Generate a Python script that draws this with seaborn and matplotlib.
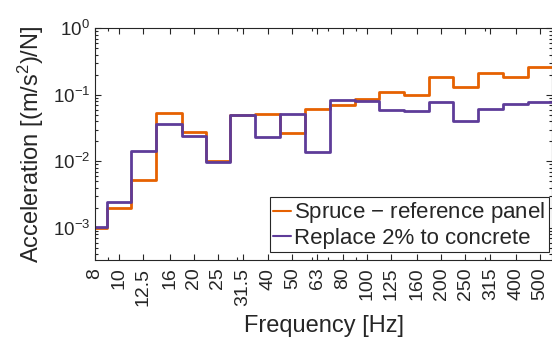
import numpy as np
import pandas as pd
import seaborn as sns
import matplotlib.pyplot as plt
from matplotlib.ticker import LogLocator, NullFormatter

# third-octave bands (nominal centre frequencies)
band_labels = ["8", "10", "12.5", "16", "20", "25", "31.5", "40", "50", "63",
               "80", "100", "125", "160", "200", "250", "315", "400", "500"]
band_hz = [8, 10, 12.5, 16, 20, 25, 31.5, 40, 50, 63,
           80, 100, 125, 160, 200, 250, 315, 400, 500]

# acceleration per band
spruce = [1.0e-3, 2.0e-3, 5.3e-3, 5.3e-2, 2.75e-2, 1.02e-2, 5.0e-2, 5.1e-2, 2.65e-2, 6.2e-2,
          7.1e-2, 8.7e-2, 0.110, 9.8e-2, 0.186, 0.130, 0.214, 0.184, 0.26]
concrete = [1.05e-3, 2.45e-3, 1.45e-2, 3.6e-2, 2.4e-2, 9.8e-3, 5.0e-2, 2.3e-2, 5.2e-2, 1.38e-2,
            8.4e-2, 8.1e-2, 6.0e-2, 5.75e-2, 7.9e-2, 4.0e-2, 6.1e-2, 7.3e-2, 7.7e-2]

series_names = ["Spruce $-$ reference panel", "Replace 2% to concrete"]
colors = ["#E66101", "#5E3C99"]

# band edges: geometric means between neighbours, half a third-octave outside
f = np.array(band_hz, dtype=float)
edges = np.concatenate([[f[0] / 2 ** (1 / 6)], np.sqrt(f[:-1] * f[1:]), [f[-1] * 2 ** (1 / 6)]])

rows = []
for name, vals in zip(series_names, [spruce, concrete]):
    ys = list(vals) + [vals[-1]]
    for x, y in zip(edges, ys):
        rows.append({"freq": x, "acc": y, "series": name})
df = pd.DataFrame(rows)

sns.set_theme(style="ticks")
plt.rcParams["font.family"] = ["Liberation Sans", "DejaVu Sans"]
plt.rcParams["mathtext.fontset"] = "custom"
plt.rcParams["mathtext.rm"] = "Liberation Sans"
plt.rcParams["mathtext.it"] = "Liberation Sans:italic"
plt.rcParams["axes.edgecolor"] = "#262626"
plt.rcParams["xtick.color"] = "#262626"
plt.rcParams["ytick.color"] = "#262626"

fig = plt.figure(figsize=(5.52, 3.41), dpi=100)
ax = fig.add_axes([0.1721, 0.2375, 0.8288, 0.6795])

sns.lineplot(data=df, x="freq", y="acc", hue="series", palette=colors,
             drawstyle="steps-post", linewidth=2, estimator=None, sort=False, ax=ax)

ax.set_xscale("log")
ax.set_yscale("log")
ax.set_xlim(8, edges[-1])
ax.set_ylim(3.3e-4, 1)

ax.set_xticks(band_hz)
ax.set_xticklabels(band_labels, rotation=90, fontsize=14)
ax.xaxis.set_minor_locator(LogLocator(base=10, subs=np.arange(2, 10)))
ax.xaxis.set_minor_formatter(NullFormatter())
ax.yaxis.set_major_locator(LogLocator(base=10, numticks=10))
ax.yaxis.set_minor_locator(LogLocator(base=10, subs=np.arange(2, 10), numticks=10))
ax.yaxis.set_minor_formatter(NullFormatter())
ax.tick_params(axis="y", labelsize=13.5)
ax.tick_params(axis="x", pad=5.5)
ax.tick_params(which="both", direction="in", top=True, right=True, width=0.8)
ax.tick_params(which="major", length=4.5)
ax.tick_params(which="minor", length=2.5)
for s in ax.spines.values():
    s.set_linewidth(0.8)

ax.set_xlabel("Frequency [Hz]", fontsize=17, labelpad=7)
ax.set_ylabel("Acceleration [(m/s$^2$)/N]", fontsize=17, labelpad=5)

leg = ax.legend(loc="lower right", bbox_to_anchor=(0.992, 0.0345), fontsize=16,
                frameon=True, fancybox=False, edgecolor="#262626", framealpha=1,
                handlelength=0.8, handletextpad=0.15, labelspacing=0.1,
                borderpad=0.15, borderaxespad=0)
leg.get_frame().set_linewidth(0.8)
for line in leg.get_lines():
    line.set_linewidth(1.5)

fig.savefig("out.png", dpi=100)
